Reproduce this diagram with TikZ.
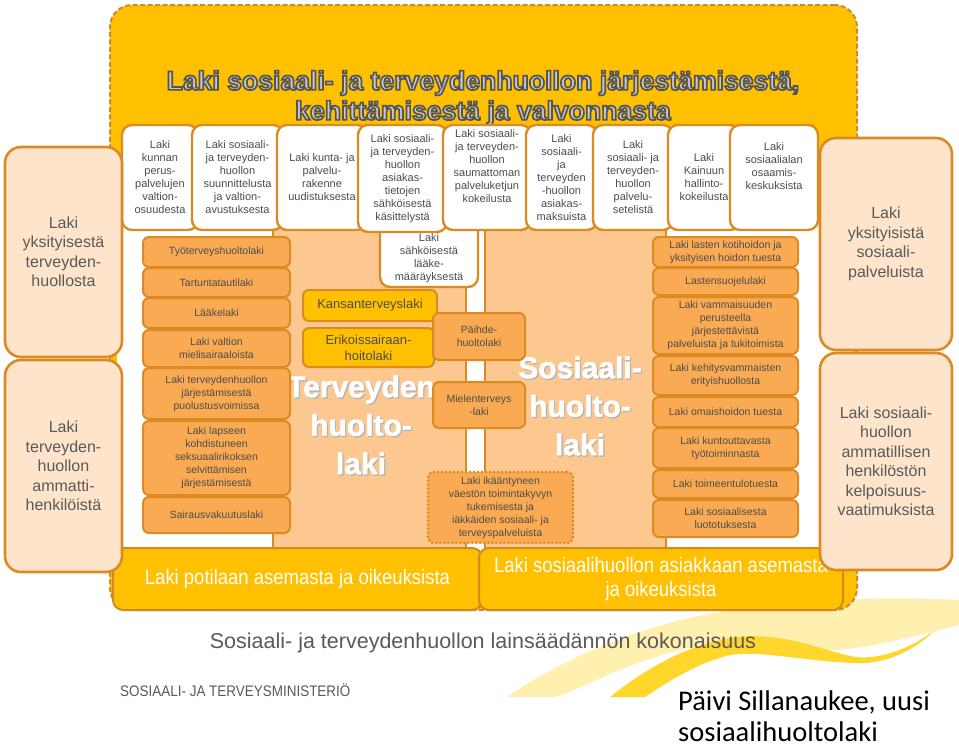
\documentclass[tikz,border=0pt]{standalone}
\usepackage{fontspec}
\setmainfont{Liberation Sans}
\newfontfamily\narrowfont[FakeStretch=0.88]{Liberation Sans}
\newfontfamily\heavyfont[BoldFeatures={FakeBold=1.6}]{Liberation Sans}
\newfontfamily\calfont{Carlito}
\definecolor{gold}{HTML}{FFC000}
\definecolor{frameline}{HTML}{C98B3A}
\definecolor{bord}{HTML}{DC8A22}
\definecolor{bottombord}{HTML}{D08A1F}
\definecolor{orfill}{HTML}{F9AA52}
\definecolor{panelfill}{HTML}{FCC890}
\definecolor{peach}{HTML}{FDE4CB}
\definecolor{txt}{HTML}{4D4D4D}
\definecolor{coltxt}{HTML}{5A5A5A}
\definecolor{ttlin}{HTML}{C8C8C8}
\definecolor{swpale}{HTML}{FFF0B0}
\definecolor{swbright}{HTML}{FFD62A}
\newcommand\strokeon{\special{pdf:literal 2 Tr 1.7 w 0.33 0.33 0.33 RG}}
\newcommand\strokeoff{\special{pdf:literal 0 Tr 1 w}}
\tikzset{
  basebox/.style={draw=bord, line width=2.4pt, align=center, inner sep=0pt, text=txt},
  wbox/.style={basebox, fill=white, rounded corners=10pt, font=\fontsize{11}{13}\selectfont},
  obox/.style={basebox, fill=orfill, rounded corners=6pt, line width=2pt, font=\fontsize{10.5}{13}\selectfont},
  dotbox/.style={obox, dotted, line width=2.2pt},
  ybox/.style={basebox, fill=gold, rounded corners=6pt, line width=2pt, font=\fontsize{13}{16}\selectfont},
  colbox/.style={basebox, fill=peach, rounded corners=16pt, line width=2.6pt, text=coltxt, font=\fontsize{16}{19.5}\selectfont},
  bottombox/.style={basebox, fill=gold, draw=bottombord, rounded corners=10pt, line width=2pt, text=white, font=\narrowfont\fontsize{21}{24}\selectfont},
  panelbox/.style={draw=bord, line width=2pt, fill=panelfill, inner sep=0pt},
  bigtext/.style={align=center, inner sep=0pt, font=\heavyfont\bfseries\fontsize{30}{38.5}\selectfont},
  titletext/.style={inner sep=0pt, text=ttlin, font=\bfseries\fontsize{26.6}{31}\selectfont}
}
\newcommand\mybox[7]{\node[#1, minimum width={#5-#3}, minimum height={#6-#4}] (#2) at ({(#3+#5)/2},{(#4+#6)/2}) {#7};}
\begin{document}
\begin{tikzpicture}[x=1pt,y=-1pt]
\useasboundingbox (0,0) rectangle (959,747);
\fill[white] (0,0) rectangle (959,747);
% decorative swoosh
\fill[swpale] (507,697) .. controls (560,660) and (640,625) .. (720,612) .. controls (790,600) and (880,596) .. (959,600) -- (959,625) .. controls (900,640) and (860,650) .. (830,650) .. controls (780,648) and (720,640) .. (680,650) .. controls (620,665) and (580,690) .. (555,697) -- cycle;
\fill[swbright] (610,697) .. controls (650,665) and (690,645) .. (730,638) .. controls (780,630) and (820,650) .. (855,657) .. controls (885,660) and (915,645) .. (935,630) .. controls (915,650) and (885,665) .. (855,663) .. controls (810,662) and (760,650) .. (730,655) .. controls (700,662) and (670,680) .. (645,697) -- cycle;
% outer frame
\mybox{draw=frameline, dash pattern=on 5pt off 2.5pt, line width=2pt, fill=gold, rounded corners=22pt, inner sep=0pt}{frame}{110}{5}{857}{610}{}
% title
\node[titletext] (title1) at (483,83) {\strokeon Laki sosiaali- ja terveydenhuollon järjestämisestä,\strokeoff};
\node[titletext] (title2) at (483,113) {\strokeon kehittämisestä ja valvonnasta\strokeoff};
% white inner area and panels
\mybox{fill=white, inner sep=0pt}{inner}{117}{222}{853}{551}{}
\mybox{panelbox}{tpanel}{273}{222}{466}{549}{}
\mybox{panelbox}{spanel}{485}{222}{666}{549}{}
% box under top row
\mybox{wbox}{laake}{380}{222}{478}{287}{\\[2pt]Laki\\sähköisestä\\lääke-\\määräyksestä}
% top row
\mybox{wbox}{t1}{122}{125}{198}{230}{Laki\\kunnan\\perus-\\palvelujen\\valtion-\\osuudesta}
\mybox{wbox}{t2}{192}{125}{283}{230}{Laki sosiaali-\\ja terveyden-\\huollon\\suunnittelusta\\ja valtion-\\avustuksesta}
\mybox{wbox}{t3}{277}{125}{367}{230}{Laki kunta- ja\\palvelu-\\rakenne\\uudistuksesta}
\mybox{wbox}{t4}{358}{125}{447}{232}{Laki sosiaali-\\ja terveyden-\\huollon\\asiakas-\\tietojen\\sähköisestä\\käsittelystä}
\mybox{wbox}{t5}{443}{125}{531}{230}{Laki sosiaali-\\ja terveyden-\\huollon\\saumattoman\\palveluketjun\\kokeilusta\\[10pt]}
\mybox{wbox}{t6}{526}{125}{597}{230}{Laki\\sosiaali-\\ja\\terveyden\\-huollon\\asiakas-\\maksuista}
\mybox{wbox}{t7}{593}{125}{673}{230}{Laki\\sosiaali- ja\\terveyden-\\huollon\\palvelu-\\setelistä}
\mybox{wbox}{t8}{668}{125}{740}{230}{Laki\\Kainuun\\hallinto-\\kokeilusta}
\mybox{wbox}{t9}{730}{125}{818}{230}{Laki\\sosiaalialan\\osaamis-\\keskuksista\\[10pt]}
% big labels
\node[bigtext, text=black!30] (tlabelsh) at (362.2,426.2) {Terveyden\\huolto-\\laki};
\node[bigtext, text=white] (tlabel) at (361,425) {Terveyden\\huolto-\\laki};
\node[bigtext, text=black!30] (slabelsh) at (581.2,407.2) {Sosiaali-\\huolto-\\laki};
\node[bigtext, text=white] (slabel) at (580,406) {Sosiaali-\\huolto-\\laki};
% middle boxes
\mybox{ybox}{kansan}{303}{290}{437}{321}{Kansanterveyslaki}
\mybox{ybox}{erik}{303}{328}{434}{367}{Erikoissairaan-\\hoitolaki}
\mybox{obox}{paihde}{433}{313}{525}{360}{Päihde-\\huoltolaki}
\mybox{obox}{mielen}{433}{382}{525}{428}{Mielenterveys\\-laki}
\mybox{dotbox}{ikaan}{428}{472}{573}{543}{Laki ikääntyneen\\väestön toimintakyvyn\\tukemisesta ja\\iäkkäiden sosiaali- ja\\terveyspalveluista}
% left stack
\mybox{obox}{l1}{143}{237}{290}{267}{Työterveyshuoltolaki}
\mybox{obox}{l2}{143}{268}{290}{297}{Tartuntatautilaki}
\mybox{obox}{l3}{143}{298}{290}{328}{Lääkelaki}
\mybox{obox}{l4}{143}{330}{290}{367}{Laki valtion\\mielisairaaloista}
\mybox{obox}{l5}{143}{368}{290}{419}{Laki terveydenhuollon\\järjestämisestä\\puolustusvoimissa}
\mybox{obox}{l6}{143}{421}{290}{495}{Laki lapseen\\kohdistuneen\\seksuaalirikoksen\\selvittämisen\\järjestämisestä}
\mybox{obox}{l7}{143}{497}{290}{533}{Sairausvakuutuslaki}
% right stack
\mybox{obox}{r1}{653}{237}{798}{267}{Laki lasten kotihoidon ja\\yksityisen hoidon tuesta}
\mybox{obox}{r2}{653}{268}{798}{295}{Lastensuojelulaki}
\mybox{obox}{r3}{653}{297}{798}{354}{Laki vammaisuuden\\perusteella\\järjestettävistä\\palveluista ja tukitoimista}
\mybox{obox}{r4}{653}{356}{798}{395}{Laki kehitysvammaisten\\erityishuollosta}
\mybox{obox}{r5}{653}{397}{798}{427}{Laki omaishoidon tuesta}
\mybox{obox}{r6}{653}{428}{798}{468}{Laki kuntouttavasta\\työtoiminnasta}
\mybox{obox}{r7}{653}{470}{798}{498}{Laki toimeentulotuesta}
\mybox{obox}{r8}{653}{500}{798}{537}{Laki sosiaalisesta\\luototuksesta}
% bottom boxes
\mybox{bottombox}{bleft}{113}{548}{482}{610}{Laki potilaan asemasta ja oikeuksista}
\mybox{bottombox}{bright}{479}{548}{843}{610}{Laki sosiaalihuollon asiakkaan asemasta\\ja oikeuksista}
% side columns
\mybox{colbox}{c1}{5}{147}{122}{357}{Laki\\yksityisestä\\terveyden-\\huollosta}
\mybox{colbox}{c2}{5}{360}{122}{572}{Laki\\terveyden-\\huollon\\ammatti-\\henkilöistä}
\mybox{colbox}{c3}{820}{138}{952}{350}{Laki\\yksityisistä\\sosiaali-\\palveluista}
\mybox{colbox}{c4}{820}{353}{952}{570}{Laki sosiaali-\\huollon\\ammatillisen\\henkilöstön\\kelpoisuus-\\vaatimuksista}
% footer
\node[inner sep=0pt, text=coltxt, font=\fontsize{21.5}{24}\selectfont, anchor=base] (footer) at (483,648) {Sosiaali- ja terveydenhuollon lainsäädännön kokonaisuus};
\node[inner sep=0pt, text=coltxt, font=\narrowfont\fontsize{15.3}{17}\selectfont, anchor=west] (ministry) at (120,690) {SOSIAALI- JA TERVEYSMINISTERIÖ};
\node[inner sep=0pt, text=black, font=\calfont\fontsize{28.5}{33}\selectfont, anchor=base west] (author1) at (678,710) {Päivi Sillanaukee, uusi};
\node[inner sep=0pt, text=black, font=\calfont\fontsize{28.5}{33}\selectfont, anchor=base west] (author2) at (678,741) {sosiaalihuoltolaki};
\end{tikzpicture}
\end{document}
